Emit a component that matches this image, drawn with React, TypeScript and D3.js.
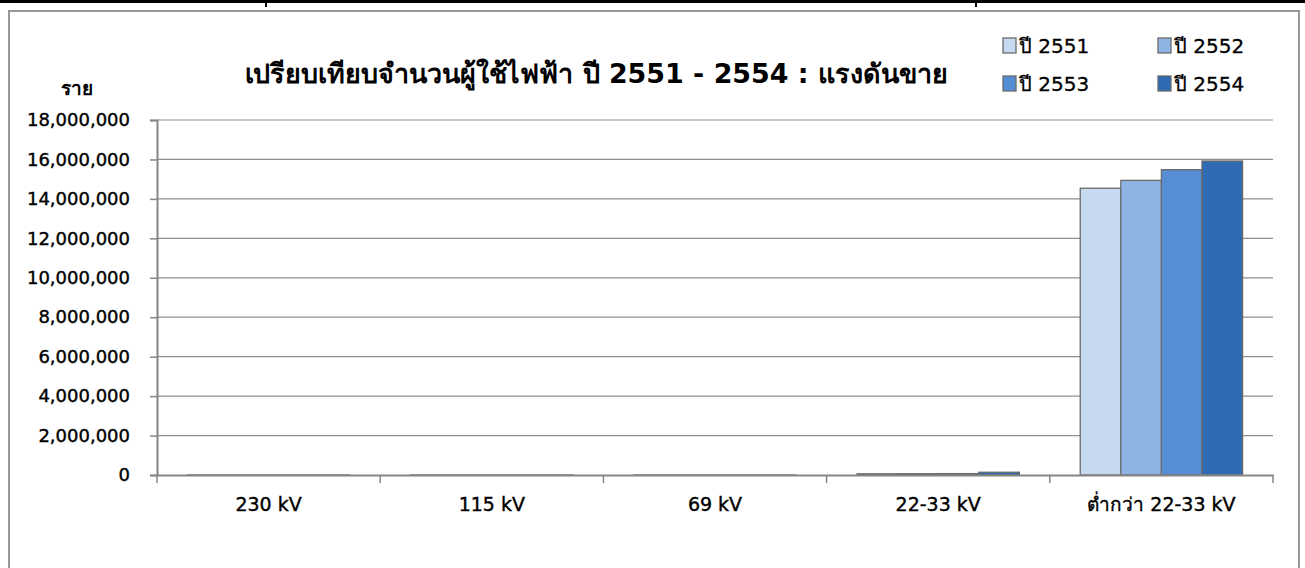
import React, { useEffect, useRef } from 'react';
import * as d3 from 'd3';

const categories = ['230 kV', '115 kV', '69 kV', '22-33 kV', 'ต่ำกว่า 22-33 kV'];
const seriesNames = ['ปี 2551', 'ปี 2552', 'ปี 2553', 'ปี 2554'];
const y2551 = [3, 40, 10, 60000, 14540000];
const y2552 = [3, 45, 10, 65000, 14940000];
const y2553 = [4, 50, 10, 70000, 15480000];
const y2554 = [4, 55, 12, 140000, 15920000];
const yTicks = [0, 2000000, 4000000, 6000000, 8000000, 10000000, 12000000, 14000000, 16000000, 18000000];
const colors = ['#c6d9f1', '#8eb4e3', '#558ed5', '#2e6bb4'];

const FONT = "Tahoma, 'DejaVu Sans', sans-serif";

const App = () => {
  const svgRef = useRef<SVGSVGElement>(null);

  useEffect(() => {
    const svg = d3.select(svgRef.current);
    svg.selectAll('*').remove();

    const width = 1305;
    const height = 568;
    const left = 157;
    const right = 1273;
    const top = 120;
    const bottom = 475;

    const values = [y2551, y2552, y2553, y2554];

    // background + frame bits
    svg.append('rect').attr('width', width).attr('height', height).attr('fill', '#fff');
    svg.append('rect').attr('x', 0).attr('y', 0).attr('width', width).attr('height', 3).attr('fill', '#000');
    [265, 975].forEach((x) => {
      svg.append('rect').attr('x', x).attr('y', 3).attr('width', 2).attr('height', 4).attr('fill', '#000');
    });
    svg
      .append('rect')
      .attr('x', 9)
      .attr('y', 11)
      .attr('width', 1290)
      .attr('height', 600)
      .attr('fill', 'none')
      .attr('stroke', '#979797')
      .attr('stroke-width', 2);

    const xScale = d3.scaleBand().domain(categories).range([left, right]);
    const inner = d3
      .scaleBand()
      .domain(seriesNames)
      .range([0, xScale.bandwidth()])
      .paddingInner(0)
      .paddingOuter(0.75);
    const yScale = d3.scaleLinear().domain([0, 18000000]).range([bottom, top]);

    // gridlines
    svg
      .append('g')
      .selectAll('line')
      .data(yTicks.filter((d) => d > 0))
      .join('line')
      .attr('x1', left)
      .attr('x2', right)
      .attr('y1', (d) => yScale(d))
      .attr('y2', (d) => yScale(d))
      .attr('stroke', '#8f8f8f')
      .attr('stroke-width', 1.2);

    // y axis
    const yAxis = d3
      .axisLeft(yScale)
      .tickValues(yTicks)
      .tickSize(7)
      .tickPadding(20)
      .tickFormat((d) => d3.format(',')(d as number));
    const yg = svg.append('g').attr('transform', `translate(${left},0)`).call(yAxis);
    yg.select('.domain').attr('stroke', '#868686').attr('stroke-width', 2);
    yg.selectAll('.tick line').attr('stroke', '#868686').attr('stroke-width', 1.5);
    yg.selectAll('.tick text')
      .attr('font-family', FONT)
      .attr('font-size', 18)
      .attr('fill', '#000')
      .attr('stroke', '#000')
      .attr('stroke-width', 0.4);

    // bars
    const groups = svg
      .append('g')
      .selectAll('g')
      .data(seriesNames)
      .join('g')
      .attr('fill', (d, i) => colors[i]);
    groups
      .selectAll('rect')
      .data((d, i) => categories.map((c, j) => ({ c, s: d, v: values[i][j] })))
      .join('rect')
      .attr('x', (d) => (xScale(d.c) as number) + (inner(d.s) as number))
      .attr('y', (d) => yScale(d.v))
      .attr('width', inner.bandwidth())
      .attr('height', (d) => bottom - yScale(d.v))
      .attr('stroke', '#6b6b6b')
      .attr('stroke-width', 1.3);

    // x axis
    const xAxis = d3.axisBottom(xScale).tickSize(0).tickPadding(23);
    const xg = svg.append('g').attr('transform', `translate(0,${bottom})`).call(xAxis);
    xg.select('.domain').attr('stroke', '#868686').attr('stroke-width', 2);
    xg.selectAll('.tick text')
      .attr('font-family', FONT)
      .attr('font-size', 19)
      .attr('fill', '#000')
      .attr('stroke', '#000')
      .attr('stroke-width', 0.4);
    const edges = categories.map((c) => xScale(c) as number).concat([right]);
    svg
      .append('g')
      .selectAll('line')
      .data(edges)
      .join('line')
      .attr('x1', (d) => d)
      .attr('x2', (d) => d)
      .attr('y1', bottom)
      .attr('y2', bottom + 8)
      .attr('stroke', '#868686')
      .attr('stroke-width', 1.5);

    // title
    svg
      .append('text')
      .attr('x', 596)
      .attr('y', 83)
      .attr('text-anchor', 'middle')
      .attr('font-family', FONT)
      .attr('font-size', 27)
      .attr('font-weight', 'bold')
      .attr('textLength', 703)
      .attr('lengthAdjust', 'spacingAndGlyphs')
      .text('เปรียบเทียบจำนวนผู้ใช้ไฟฟ้า ปี 2551 - 2554 : แรงดันขาย');

    // unit label
    svg
      .append('text')
      .attr('x', 77)
      .attr('y', 95)
      .attr('text-anchor', 'middle')
      .attr('font-family', FONT)
      .attr('font-size', 19)
      .attr('font-weight', 'bold')
      .text('ราย');

    // legend
    const legend = svg
      .append('g')
      .selectAll('g')
      .data(seriesNames)
      .join('g')
      .attr('transform', (d, i) => `translate(${1003 + (i % 2) * 155},${38 + Math.floor(i / 2) * 38})`);
    legend
      .append('rect')
      .attr('width', 13)
      .attr('height', 15)
      .attr('fill', (d, i) => colors[i])
      .attr('stroke', '#6b6b6b')
      .attr('stroke-width', 1.3);
    legend
      .append('text')
      .attr('x', 16)
      .attr('y', 15)
      .attr('font-family', FONT)
      .attr('font-size', 20)
      .attr('fill', '#000')
      .attr('stroke', '#000')
      .attr('stroke-width', 0.3)
      .text((d) => d);
  }, []);

  return (
    <svg
      ref={svgRef}
      width={1305}
      height={568}
      style={{ position: 'absolute', left: 0, top: 0, display: 'block' }}
    />
  );
};

export default App;
